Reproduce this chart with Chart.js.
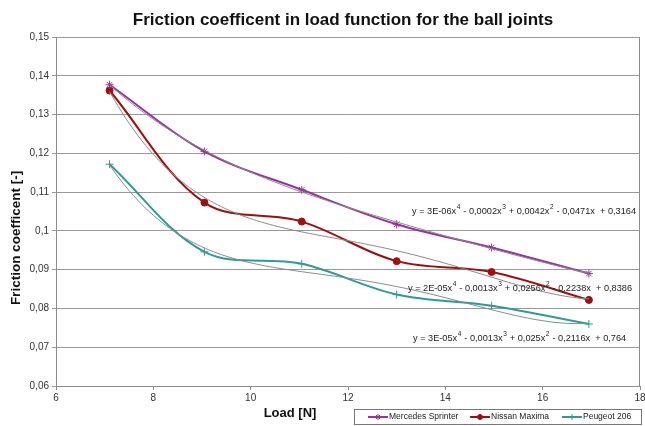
<!DOCTYPE html>
<html>
<head>
<meta charset="utf-8">
<script src="https://cdn.jsdelivr.net/npm/chart.js@4/dist/chart.umd.min.js"></script>
<style>
  html, body { margin: 0; padding: 0; background: #fff; }
  #wrap { width: 645px; height: 426px; }
</style>
</head>
<body>
<div id="wrap"><canvas id="chart" width="645" height="426"></canvas></div>
<script>
// values
const loads = [7.1, 9.05, 11.05, 13.0, 14.95, 16.95];
const mercedes = [0.1377, 0.1205, 0.1106, 0.1017, 0.0957, 0.0890];
const nissan = [0.1362, 0.1073, 0.1024, 0.0922, 0.0894, 0.0822];
const peugeot = [0.1172, 0.0946, 0.0915, 0.0836, 0.0807, 0.0760];

const seriesNames = ['Mercedes Sprinter', 'Nissan Maxima', 'Peugeot 206'];
const seriesValues = [mercedes, nissan, peugeot];
const seriesColors = ['#993399', '#9c1010', '#2e9a9a'];
const seriesMarkers = ['star', 'circle', 'cross'];

// trendline labels as printed on the chart
const trendEquations = [
    'y = 3E-06x^4 - 0,0002x^3 + 0,0042x^2 - 0,0471x  + 0,3164',
    'y = 2E-05x^4 - 0,0013x^3 + 0,0256x^2 - 0,2238x  + 0,8386',
    'y = 3E-05x^4 - 0,0013x^3 + 0,025x^2 - 0,2116x  + 0,764'
];

const chartTitle = 'Friction coefficent in load function for the ball joints';
const xTitle = 'Load [N]';
const yTitle = 'Friction coefficent [-]';

const FONT = '"Liberation Sans", Arial, sans-serif';

// 4th order least squares trendline (like the spreadsheet one)
function polyFit(xs, ys, deg) {
    const xm = xs.reduce((a, b) => a + b, 0) / xs.length;
    const n = deg + 1;
    const A = [];
    const b = [];
    for (let i = 0; i < n; i++) {
        A.push(new Array(n).fill(0));
        b.push(0);
    }
    xs.forEach((x, k) => {
        const u = x - xm;
        for (let i = 0; i < n; i++) {
            b[i] += ys[k] * Math.pow(u, i);
            for (let j = 0; j < n; j++) A[i][j] += Math.pow(u, i + j);
        }
    });
    for (let c = 0; c < n; c++) {
        let p = c;
        for (let r = c + 1; r < n; r++) if (Math.abs(A[r][c]) > Math.abs(A[p][c])) p = r;
        [A[c], A[p]] = [A[p], A[c]];
        [b[c], b[p]] = [b[p], b[c]];
        for (let r = c + 1; r < n; r++) {
            const f = A[r][c] / A[c][c];
            for (let j = c; j < n; j++) A[r][j] -= f * A[c][j];
            b[r] -= f * b[c];
        }
    }
    const coef = new Array(n).fill(0);
    for (let r = n - 1; r >= 0; r--) {
        let s = b[r];
        for (let j = r + 1; j < n; j++) s -= A[r][j] * coef[j];
        coef[r] = s / A[r][r];
    }
    return x => coef.reduce((s, c, i) => s + c * Math.pow(x - xm, i), 0);
}

function trendPoints(values) {
    const f = polyFit(loads, values, 4);
    const pts = [];
    const x0 = loads[0], x1 = loads[loads.length - 1];
    const steps = 120;
    for (let i = 0; i <= steps; i++) {
        const x = x0 + (x1 - x0) * i / steps;
        pts.push({ x: x, y: f(x) });
    }
    return pts;
}

const datasets = [];
seriesValues.forEach((vals, i) => {
    datasets.push({
        label: seriesNames[i],
        data: loads.map((x, k) => ({ x: x, y: vals[k] })),
        borderColor: seriesColors[i],
        backgroundColor: seriesColors[i],
        borderWidth: 2,
        pointStyle: seriesMarkers[i],
        pointRadius: seriesMarkers[i] === 'circle' ? 3.5 : 4,
        pointBorderWidth: 1,
        tension: 0.35,
        order: 1
    });
});
seriesValues.forEach((vals, i) => {
    datasets.push({
        label: 'trend ' + seriesNames[i],
        data: trendPoints(vals),
        borderColor: '#8a8a8a',
        borderWidth: 1,
        pointRadius: 0,
        tension: 0,
        isTrend: true,
        order: 0
    });
});

const fmtComma = v => String(parseFloat(v.toFixed(2))).replace('.', ',');

function drawEquation(ctx, text, x, y) {
    const parts = text.split(/\^(\d)/);
    let cx = x;
    ctx.textBaseline = 'middle';
    ctx.textAlign = 'left';
    parts.forEach((p, idx) => {
        if (idx % 2 === 1) {
            ctx.font = '6.5px ' + FONT;
            ctx.fillText(p, cx + 0.5, y - 4);
            cx += ctx.measureText(p).width + 1;
        } else {
            ctx.font = '9.2px ' + FONT;
            ctx.fillText(p, cx, y);
            cx += ctx.measureText(p).width;
        }
    });
}

const decorPlugin = {
    id: 'decor',
    beforeDatasetsDraw(chart) {
        const { ctx, chartArea: a } = chart;
        ctx.save();
        ctx.strokeStyle = '#8c8c8c';
        ctx.lineWidth = 1;
        ctx.beginPath();
        ctx.moveTo(Math.round(a.right) - 0.5, a.top);
        ctx.lineTo(Math.round(a.right) - 0.5, a.bottom);
        ctx.stroke();
        ctx.restore();
    },
    afterDraw(chart) {
        const { ctx } = chart;
        ctx.save();
        // main title
        ctx.fillStyle = '#111';
        ctx.font = 'bold 17px ' + FONT;
        ctx.textAlign = 'center';
        ctx.textBaseline = 'middle';
        ctx.fillText(chartTitle, 343, 20);

        // axis titles
        ctx.font = 'bold 13px ' + FONT;
        ctx.fillText(xTitle, 290, 413);
        ctx.save();
        ctx.translate(16, 238);
        ctx.rotate(-Math.PI / 2);
        ctx.font = 'bold 13.5px ' + FONT;
        ctx.fillText(yTitle, 0, 0);
        ctx.restore();

        // trendline equations
        ctx.fillStyle = '#222';
        drawEquation(ctx, trendEquations[0], 412, 211);
        drawEquation(ctx, trendEquations[1], 408, 288);
        drawEquation(ctx, trendEquations[2], 413, 338);

        // legend box
        const bx = 354, by = 409, bw = 287, bh = 15;
        ctx.strokeStyle = '#777';
        ctx.lineWidth = 1;
        ctx.strokeRect(bx + 0.5, by + 0.5, bw, bh);
        const itemX = [368, 470, 562];
        const cy = by + bh / 2 + 0.5;
        chart.data.datasets.filter(d => !d.isTrend).forEach((d, i) => {
            const lx = itemX[i];
            ctx.strokeStyle = d.borderColor;
            ctx.fillStyle = d.backgroundColor;
            ctx.lineWidth = 2;
            ctx.beginPath();
            ctx.moveTo(lx, cy);
            ctx.lineTo(lx + 20, cy);
            ctx.stroke();
            ctx.lineWidth = 1;
            Chart.helpers.drawPoint(ctx, {
                pointStyle: d.pointStyle,
                radius: d.pointStyle === 'circle' ? 2.5 : 3,
                borderWidth: 1
            }, lx + 10, cy);
            ctx.fillStyle = '#222';
            ctx.font = '8.5px ' + FONT;
            ctx.textAlign = 'left';
            ctx.textBaseline = 'middle';
            ctx.fillText(d.label, lx + 21, cy);
        });
        ctx.restore();
    }
};

new Chart(document.getElementById('chart'), {
    type: 'line',
    data: { datasets: datasets },
    options: {
        responsive: false,
        animation: false,
        events: [],
        layout: { padding: { top: 37, right: 5, left: 0, bottom: 0 } },
        plugins: {
            legend: { display: false },
            title: { display: false },
            tooltip: { enabled: false }
        },
        scales: {
            x: {
                type: 'linear',
                min: 6,
                max: 18,
                ticks: {
                    stepSize: 2,
                    color: '#333',
                    padding: 2,
                    font: { size: 10, family: FONT }
                },
                grid: { drawOnChartArea: false, tickLength: 4, color: '#8c8c8c' },
                border: { color: '#8c8c8c' },
                afterFit(scale) {
                    scale.height = 40;
                    scale.paddingRight = 0;
                    scale.paddingLeft = 0;
                }
            },
            y: {
                min: 0.06,
                max: 0.15,
                ticks: {
                    stepSize: 0.01,
                    color: '#333',
                    padding: 3,
                    font: { size: 10, family: FONT },
                    callback: v => fmtComma(v)
                },
                grid: { color: '#999', tickLength: 4 },
                border: { color: '#8c8c8c' },
                afterFit(scale) {
                    scale.width = 56;
                    scale.paddingTop = 0;
                    scale.paddingBottom = 0;
                }
            }
        }
    },
    plugins: [decorPlugin]
});
</script>
</body>
</html>
